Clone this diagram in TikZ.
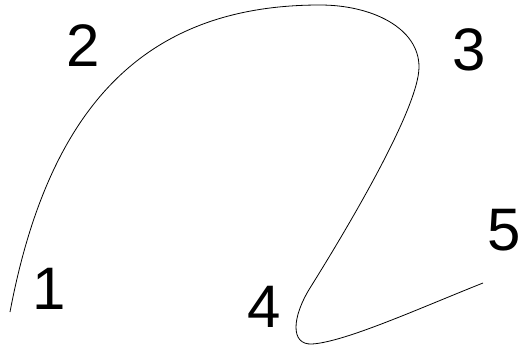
\documentclass[tikz,border=0pt]{standalone}
\usepackage{fontspec}
\setmainfont{Liberation Sans}
\begin{document}
\begin{tikzpicture}[x=1pt,y=-1pt,
  lbl/.style={inner sep=0pt,font=\fontsize{60}{60}\selectfont},
  curve/.style={line width=0.8pt,black}]
\useasboundingbox (0,0) rectangle (521,350);
\coordinate (p1) at (10,312);
\coordinate (p2) at (320,5);
\coordinate (p3) at (419,67);
\coordinate (p4) at (310,288);
\coordinate (p5) at (312,344);
\coordinate (p6) at (483,283);
\draw[curve] (p1) .. controls (50,100) and (150,5) .. (p2)
  .. controls (372,5) and (419,28) .. (p3)
  .. controls (419,110) and (340,240) .. (p4)
  .. controls (292,317) and (290,345) .. (p5)
  .. controls (345,342) and (420,308) .. (p6);
\node[lbl] (n1) at (49,288.5) {1};
\node[lbl] (n2) at (83,45.5) {2};
\node[lbl] (n3) at (469.5,50) {3};
\node[lbl] (n4) at (264,307) {4};
\node[lbl] (n5) at (504.5,230) {5};
\end{tikzpicture}
\end{document}
